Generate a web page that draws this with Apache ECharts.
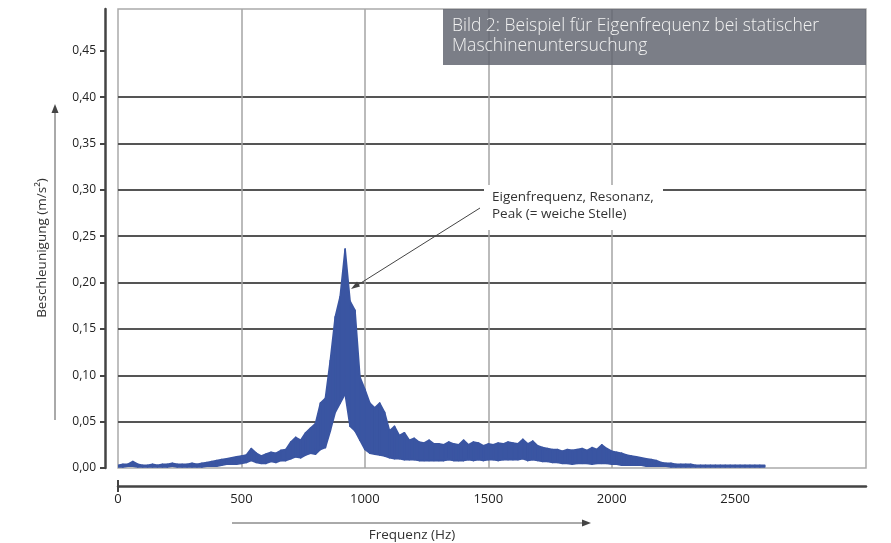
<!DOCTYPE html>
<html>
<head>
<meta charset="utf-8">
<script src="https://cdn.jsdelivr.net/npm/echarts@6/dist/echarts.min.js"></script>
<style>
html,body{margin:0;padding:0;background:#fff;}
#chart{width:891px;height:543px;}
</style>
</head>
<body>
<div id="chart"></div>
<script>
// Frequency bins (Hz): first bin and bin spacing of the spectrum envelope
var freqStartHz = 0;
var freqStepHz = 20;
// Upper edge of the plotted spectrum band (m/s²), one value per bin
var accelUpper = [
  0.003,0.004,0.004,0.007,0.004,  0.003,0.003,0.004,0.003,0.004,
  0.004,0.005,0.004,0.004,0.004,  0.005,0.004,0.005,0.006,0.007,
  0.008,0.009,0.010,0.011,0.012,  0.013,0.014,0.021,0.016,0.013,
  0.015,0.017,0.016,0.019,0.020,  0.028,0.033,0.030,0.038,0.043,
  0.048,0.070,0.075,0.116,0.163,  0.185,0.236,0.180,0.170,0.098,
  0.085,0.070,0.065,0.070,0.060,  0.040,0.045,0.035,0.038,0.030,
  0.032,0.028,0.027,0.030,0.026,  0.026,0.025,0.028,0.026,0.025,
  0.030,0.025,0.028,0.027,0.024,  0.026,0.025,0.027,0.026,0.028,
  0.027,0.026,0.031,0.026,0.029,  0.024,0.022,0.021,0.020,0.020,
  0.018,0.020,0.019,0.020,0.021,  0.019,0.022,0.020,0.025,0.021,
  0.018,0.017,0.016,0.014,0.013,  0.012,0.011,0.010,0.009,0.008,
  0.006,0.005,0.005,0.004,0.004,  0.004,0.004,0.003,0.003,0.003,
  0.003,0.003,0.003,0.003,0.003,  0.003,0.003,0.003,0.003,0.003,
  0.003,0.003
];
// Lower edge of the plotted spectrum band (m/s²)
var accelLower = [
  0.001,0.001,0.002,0.002,0.001,  0.001,0.001,0.001,0.001,0.001,
  0.001,0.002,0.001,0.001,0.001,  0.001,0.001,0.001,0.002,0.002,
  0.002,0.003,0.004,0.004,0.004,  0.005,0.006,0.008,0.006,0.005,
  0.005,0.007,0.006,0.008,0.008,  0.010,0.012,0.011,0.014,0.016,
  0.015,0.020,0.022,0.040,0.060,  0.070,0.080,0.045,0.040,0.030,
  0.020,0.016,0.015,0.014,0.013,  0.011,0.010,0.010,0.009,0.009,
  0.009,0.008,0.008,0.008,0.008,  0.008,0.008,0.009,0.008,0.008,
  0.008,0.009,0.008,0.009,0.008,  0.009,0.009,0.008,0.009,0.009,
  0.009,0.009,0.010,0.008,0.009,  0.008,0.007,0.007,0.006,0.006,
  0.005,0.005,0.004,0.005,0.005,  0.005,0.004,0.005,0.005,0.005,
  0.004,0.004,0.003,0.003,0.003,  0.003,0.003,0.002,0.002,0.002,
  0.002,0.002,0.001,0.001,0.001,  0.001,0.001,0.001,0.001,0.001,
  0.001,0.001,0.001,0.001,0.001,  0.001,0.001,0.001,0.001,0.001,
  0.001,0.001
];
var xTicks = [0, 500, 1000, 1500, 2000, 2500];
var yTicks = [0, 0.05, 0.10, 0.15, 0.20, 0.25, 0.30, 0.35, 0.40, 0.45];
var titleLines = ['Bild 2: Beispiel für Eigenfrequenz bei statischer', 'Maschinenuntersuchung'];
var annotationLines = ['Eigenfrequenz, Resonanz,', 'Peak (= weiche Stelle)'];
var xName = 'Frequenz (Hz)';
var yName = 'Beschleunigung (m/s²)';

function freqOf(i) { return freqStartHz + i * freqStepHz; }
var bandData = accelUpper.map(function (u, i) { return [freqOf(i), accelLower[i], u]; });

var BLUE = '#3a55a2';
var FONT = '"Open Sans", "Noto Sans", sans-serif';
var chart = echarts.init(document.getElementById('chart'), null, {renderer: 'canvas'});

function renderBand(params, api) {
  var i = params.dataIndex;
  if (i >= bandData.length - 1) return null;
  var n = bandData[i + 1];
  var pts = [
    api.coord([api.value(0), api.value(2)]),
    api.coord([n[0], n[2]]),
    api.coord([n[0], n[1]]),
    api.coord([api.value(0), api.value(1)])
  ];
  return {
    type: 'polygon',
    shape: {points: pts},
    style: {fill: BLUE, stroke: BLUE, lineWidth: 1.6, lineJoin: 'round'}
  };
}

var option = {
  animation: false,
  backgroundColor: '#fff',
  grid: {left: 118, right: 25, top: 9, bottom: 75, show: true, borderColor: '#ababab', borderWidth: 1.5, backgroundColor: 'transparent'},
  xAxis: {
    type: 'value', min: 0, max: 3030, interval: 500, offset: 18,
    axisLine: {show: true, onZero: false, lineStyle: {color: '#444', width: 2.5}},
    axisTick: {show: false, customValues: xTicks},
    axisLabel: {customValues: xTicks, margin: 7, color: '#222', fontSize: 13, fontFamily: FONT,
      formatter: function (v) { return String(v); }},
    splitLine: {show: true, showMinLine: false, showMaxLine: false, lineStyle: {color: '#a4a4a4', width: 1.5}}
  },
  yAxis: {
    type: 'value', min: 0, max: 0.495, interval: 0.05, offset: 13,
    axisLine: {show: true, onZero: false, lineStyle: {color: '#444', width: 2.5}},
    axisTick: {show: true, length: 5, customValues: yTicks, lineStyle: {color: '#444', width: 2}},
    axisLabel: {customValues: yTicks, margin: 9, color: '#222', fontSize: 12, fontFamily: FONT,
      formatter: function (v) { return v.toFixed(2).replace('.', ','); }},
    splitLine: {show: true, showMinLine: false, showMaxLine: false, lineStyle: {color: '#555', width: 2}}
  },
  series: [{
    type: 'custom', name: 'Spektrum', data: bandData, renderItem: renderBand,
    encode: {x: 0, y: [1, 2]}, clip: true, z: 3
  }],
  graphic: [
    // title box
    {type: 'rect', z: 100, shape: {x: 443, y: 9, width: 423, height: 56}, style: {fill: 'rgba(98,101,112,0.84)'}},
    {type: 'text', z: 101, style: {x: 452, y: 26, text: titleLines[0], fill: '#f2f2f2', font: '300 17.5px ' + FONT, textVerticalAlign: 'middle'}},
    {type: 'text', z: 101, style: {x: 452, y: 46, text: titleLines[1], fill: '#f2f2f2', font: '300 17.5px ' + FONT, textVerticalAlign: 'middle'}},
    // annotation
    {type: 'rect', z: 100, shape: {x: 484, y: 185, width: 179, height: 45}, style: {fill: '#fff'}},
    {type: 'text', z: 101, style: {x: 492, y: 197, text: annotationLines[0], fill: '#333', font: '13.5px ' + FONT, textVerticalAlign: 'middle'}},
    {type: 'text', z: 101, style: {x: 492, y: 214, text: annotationLines[1], fill: '#333', font: '13.5px ' + FONT, textVerticalAlign: 'middle'}},
    {type: 'line', z: 101, shape: {x1: 480, y1: 208, x2: 356, y2: 286}, style: {stroke: '#444', lineWidth: 1}},
    {type: 'polygon', z: 101, shape: {points: [[351, 289], [357, 281.5], [360, 286.5]]}, style: {fill: '#444'}},
    // y axis name with arrow
    {type: 'text', z: 101, x: 42, y: 248, rotation: Math.PI / 2, style: {x: 0, y: 0, text: yName, fill: '#333', font: '13.5px ' + FONT, textAlign: 'center', textVerticalAlign: 'middle'}},
    {type: 'line', z: 101, shape: {x1: 55, y1: 420, x2: 55, y2: 110}, style: {stroke: '#555', lineWidth: 1}},
    {type: 'polygon', z: 101, shape: {points: [[55, 104], [51.5, 113], [58.5, 113]]}, style: {fill: '#444'}},
    // x axis name with arrow
    {type: 'text', z: 101, style: {x: 412, y: 535, text: xName, fill: '#333', font: '13.5px ' + FONT, textAlign: 'center', textVerticalAlign: 'middle'}},
    {type: 'line', z: 101, shape: {x1: 232, y1: 523, x2: 584, y2: 523}, style: {stroke: '#555', lineWidth: 1}},
    {type: 'polygon', z: 101, shape: {points: [[591, 523], [582, 519.5], [582, 526.5]]}, style: {fill: '#444'}},
    // x axis start cap
    {type: 'line', z: 101, shape: {x1: 118, y1: 480, x2: 118, y2: 492}, style: {stroke: '#444', lineWidth: 2}}
  ]
};
chart.setOption(option);
</script>
</body>
</html>
